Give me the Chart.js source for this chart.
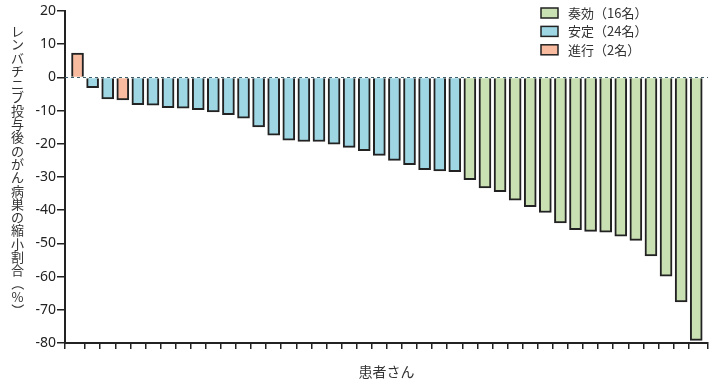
<!DOCTYPE html>
<html>
<head>
<meta charset="utf-8">
<script src="https://cdn.jsdelivr.net/npm/chart.js@4.4.1/dist/chart.umd.min.js"></script>
<style>
  html, body { margin: 0; padding: 0; background: #fff; }
</style>
</head>
<body>
<canvas id="waterfall" width="720" height="390"></canvas>
<script>
// response groups, in legend order
const responseGroups = ['奏効', '安定', '進行'];

// best change in tumour size per patient (%), sorted
const shrinkPct = [
   7.3,  -3.1,  -6.5,  -6.8,  -8.2,  -8.4,  -9.1,  -9.3,  -9.7, -10.4,
 -11.2, -12.3, -14.9, -17.4, -18.9, -19.3, -19.3, -20.1, -21.1, -22.1,
 -23.5, -25.0, -26.3, -27.8, -28.2, -28.4, -30.8, -33.3, -34.4, -37.0,
 -38.9, -40.7, -43.8, -45.9, -46.4, -46.6, -47.8, -49.1, -53.8, -59.9,
 -67.6, -79.2
];

// group of each patient, same order
const patientGroup = [
 '進行','安定','安定','進行','安定','安定','安定','安定','安定','安定',
 '安定','安定','安定','安定','安定','安定','安定','安定','安定','安定',
 '安定','安定','安定','安定','安定','安定','奏効','奏効','奏効','奏効',
 '奏効','奏効','奏効','奏効','奏効','奏効','奏効','奏効','奏効','奏効',
 '奏効','奏効'
];

const yMin = -80, yMax = 20, yStep = 10;
const yTitle = 'レンバチニブ投与後のがん病巣の縮小割合（%）';
const xTitle = '患者さん';

const groupColors = { '奏効': '#c9e0b2', '安定': '#9ed6e4', '進行': '#f8bba0' };
const CJK = '"Noto Sans CJK JP", sans-serif';
const NUM = '"Noto Sans", sans-serif';
const INK = '#222';

const datasets = responseGroups.map(g => {
  const pts = [];
  shrinkPct.forEach((v, i) => { if (patientGroup[i] === g) pts.push({ x: i, y: v }); });
  return {
    label: g + '（' + pts.length + '名）',
    data: pts,
    backgroundColor: groupColors[g],
    borderColor: INK,
    borderWidth: 2,
    borderSkipped: 'start',
    barThickness: 12,
    grouped: false
  };
});

const zeroLine = {
  id: 'zeroLine',
  afterDatasetsDraw(chart) {
    const { ctx, chartArea: a, scales: { y } } = chart;
    const py = Math.round(y.getPixelForValue(0)) + 0.5;
    ctx.save();
    ctx.setLineDash([3, 3]);
    ctx.strokeStyle = '#3e5f6b';
    ctx.lineWidth = 1;
    ctx.beginPath();
    ctx.moveTo(a.left, py);
    ctx.lineTo(a.right, py);
    ctx.stroke();
    ctx.restore();
  }
};

// stacked upright characters for the vertical y title
const verticalTitle = {
  id: 'verticalTitle',
  afterDraw(chart) {
    const ctx = chart.ctx;
    ctx.save();
    ctx.font = '13px ' + CJK;
    ctx.fillStyle = '#333';
    ctx.textAlign = 'center';
    ctx.textBaseline = 'middle';
    const x = 17.5;
    [...yTitle].forEach((ch, i) => {
      const cy = 31 + i * 13.3;
      if (ch === '（' || ch === '）') {
        ctx.save();
        ctx.translate(x, cy);
        ctx.rotate(Math.PI / 2);
        ctx.fillText(ch, 0, 0);
        ctx.restore();
      } else {
        ctx.fillText(ch, x, cy);
      }
    });
    ctx.restore();
  }
};

const boxLegend = {
  id: 'boxLegend',
  afterDraw(chart) {
    const ctx = chart.ctx;
    ctx.save();
    ctx.font = '13px ' + CJK;
    ctx.textBaseline = 'middle';
    chart.data.datasets.forEach((ds, i) => {
      const top = 8 + i * 18.4;
      ctx.fillStyle = ds.backgroundColor;
      ctx.fillRect(541, top, 17, 10);
      ctx.strokeStyle = INK;
      ctx.lineWidth = 1.5;
      ctx.strokeRect(541, top, 17, 10);
      ctx.fillStyle = '#333';
      ctx.fillText(ds.label, 568, top + 5);
    });
    ctx.restore();
  }
};

new Chart(document.getElementById('waterfall'), {
  type: 'bar',
  data: { datasets },
  options: {
    responsive: false,
    animation: false,
    layout: { padding: { top: 11, right: 12, left: 0, bottom: 0 } },
    plugins: { legend: { display: false }, tooltip: { enabled: false } },
    scales: {
      x: {
        type: 'linear',
        offset: false,
        min: -0.83,
        max: 41.78,
        afterBuildTicks(s) {
          const t = [{ value: s.min }];
          for (let i = 0; i < shrinkPct.length - 1; i++) t.push({ value: i + 0.5 });
          t.push({ value: s.max });
          s.ticks = t;
        },
        afterFit(s) { s.height = 47; },
        ticks: { display: false },
        grid: { offset: false, drawOnChartArea: false, drawTicks: true, tickLength: 6, color: INK, lineWidth: 1.5 },
        border: { display: true, color: INK, width: 2 },
        title: { display: true, text: xTitle, color: '#333', font: { family: CJK, size: 14 }, padding: { top: 0, bottom: 10 } }
      },
      y: {
        min: yMin,
        max: yMax,
        afterFit(s) { s.width = 65; },
        ticks: { stepSize: yStep, color: INK, font: { family: NUM, size: 14 }, padding: 1 },
        grid: { drawOnChartArea: false, drawTicks: true, tickLength: 8, color: INK, lineWidth: 1.5 },
        border: { display: true, color: INK, width: 2 }
      }
    }
  },
  plugins: [zeroLine, verticalTitle, boxLegend]
});
</script>
</body>
</html>
